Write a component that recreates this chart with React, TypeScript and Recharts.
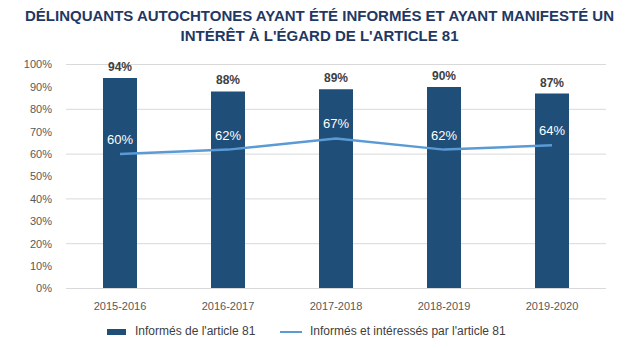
import { ComposedChart, Bar, Line, XAxis, YAxis, CartesianGrid, Legend, LabelList } from 'recharts';

const years = ['2015-2016', '2016-2017', '2017-2018', '2018-2019', '2019-2020'];
const informes = [94, 88, 89, 90, 87];
const interesses = [60, 62, 67, 62, 64];
const yTicks = [0, 10, 20, 30, 40, 50, 60, 70, 80, 90, 100];

const BAR_COLOR = '#1F4E79';
const LINE_COLOR = '#5B9BD5';
const FONT = '"Liberation Sans", Arial, sans-serif';

const data = years.map((year, i) => ({
  year,
  informes: informes[i],
  interesses: interesses[i],
}));

function LegendContent() {
  return (
    <div style={{ position: 'relative', height: 30, fontFamily: FONT, fontSize: 12, color: '#404040' }}>
      <div style={{ position: 'absolute', left: 107, top: 10, width: 19, height: 6, background: BAR_COLOR }} />
      <div style={{ position: 'absolute', left: 135, top: 5, whiteSpace: 'nowrap' }}>Informés de l'article 81</div>
      <div style={{ position: 'absolute', left: 280, top: 12, width: 22, height: 2.5, background: LINE_COLOR }} />
      <div style={{ position: 'absolute', left: 310, top: 5, whiteSpace: 'nowrap' }}>Informés et intéressés par l'article 81</div>
    </div>
  );
}

export default function App() {
  return (
    <div style={{ position: 'absolute', left: 0, top: 0, width: 639, height: 348, background: '#fff' }}>
      <div
        style={{
          position: 'absolute',
          left: 0,
          top: 6,
          width: 639,
          textAlign: 'center',
          fontFamily: FONT,
          fontWeight: 'bold',
          fontSize: 15,
          lineHeight: '20px',
          color: '#1F3864',
          zIndex: 2,
        }}
      >
        DÉLINQUANTS AUTOCHTONES AYANT ÉTÉ INFORMÉS ET AYANT MANIFESTÉ UN
        <br />
        INTÉRÊT À L'ÉGARD DE L'ARTICLE 81
      </div>
      <ComposedChart
        width={639}
        height={348}
        data={data}
        margin={{ top: 64.5, right: 33, left: 0, bottom: 0 }}
      >
        <CartesianGrid vertical={false} stroke="#D9D9D9" />
        <XAxis
          dataKey="year"
          height={30}
          tickLine={false}
          axisLine={{ stroke: '#D9D9D9' }}
          tick={{ fontSize: 11, fill: '#595959', fontFamily: FONT }}
          tickMargin={8}
        />
        <YAxis
          width={66}
          domain={[0, 100]}
          ticks={yTicks}
          tickFormatter={(v: number) => `${v}%`}
          axisLine={false}
          tickLine={false}
          tick={{ fontSize: 11, fill: '#595959', fontFamily: FONT }}
          tickMargin={8}
        />
        <Legend verticalAlign="bottom" height={29.5} content={<LegendContent />} />
        <Bar dataKey="informes" fill={BAR_COLOR} barSize={34} isAnimationActive={false}>
          <LabelList
            dataKey="informes"
            position="top"
            offset={7}
            formatter={(v: number) => `${v}%`}
            style={{ fontSize: 12, fontWeight: 'bold', fill: '#404040', fontFamily: FONT }}
          />
        </Bar>
        <Line
          dataKey="interesses"
          type="linear"
          stroke={LINE_COLOR}
          strokeWidth={2.5}
          dot={false}
          isAnimationActive={false}
        >
          <LabelList
            dataKey="interesses"
            position="top"
            offset={10}
            formatter={(v: number) => `${v}%`}
            style={{ fontSize: 13, fill: '#FFFFFF', fontFamily: FONT }}
          />
        </Line>
      </ComposedChart>
    </div>
  );
}
